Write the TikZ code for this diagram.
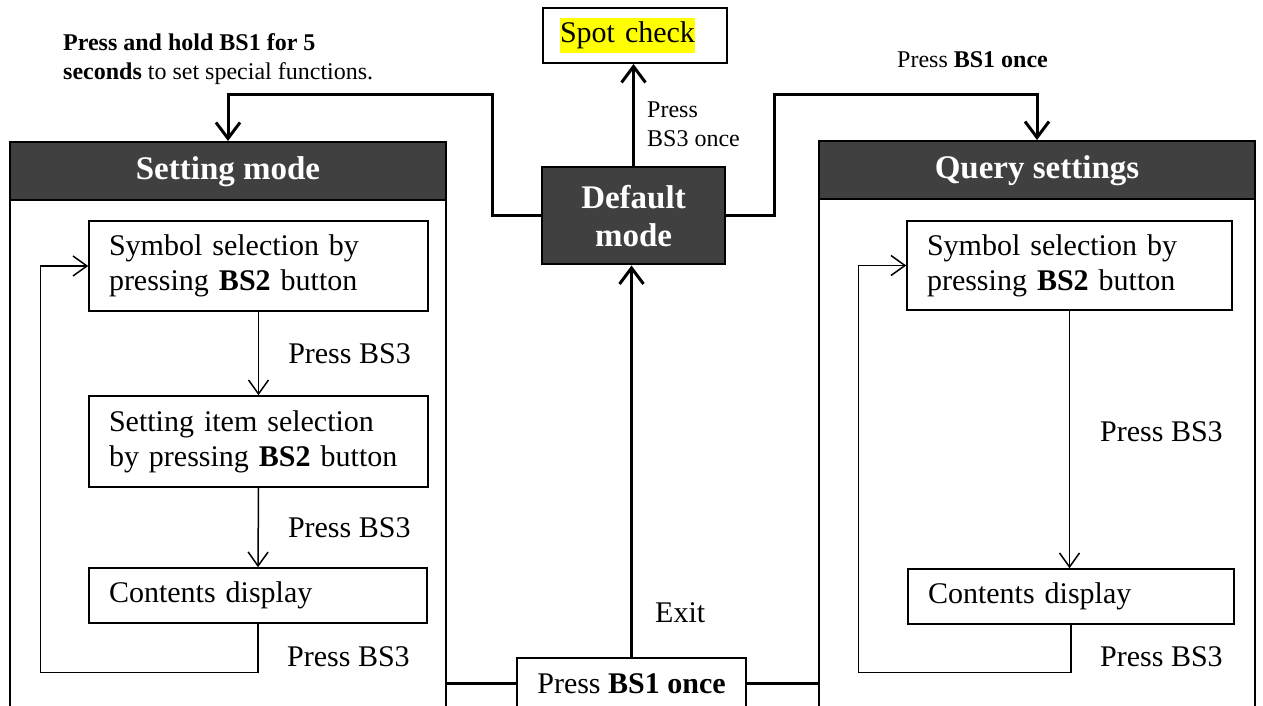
\documentclass[tikz,border=0pt]{standalone}
\usepackage{fontspec}
\setmainfont{Liberation Serif}
\definecolor{modeGray}{RGB}{64, 64, 64}
\definecolor{spotYellow}{RGB}{255, 255, 0}
\usetikzlibrary{arrows.meta, positioning, calc}

\begin{document}
\begin{tikzpicture}[x=1pt, y=1pt,
    every node/.style={font=\fontsize{30}{35}\selectfont},
    stepBox/.style={draw, line width=1.5pt, align=left, inner xsep=20pt, inner ysep=0pt},
    frameBox/.style={draw, line width=2pt, minimum width=436, minimum height=640, anchor=north},
    headBox/.style={draw, line width=2.5pt, fill=modeGray, text=white, minimum width=436, minimum height=58,
      anchor=north, font=\fontsize{33}{38}\selectfont\bfseries},
    smallText/.style={font=\fontsize{24}{29}\selectfont, align=left, inner sep=0pt},
    bigArrow/.style={line width=3pt, -{Straight Barb[length=16pt, width=24pt]}},
    thinArrow/.style={line width=1.5pt, -{Straight Barb[length=14pt, width=20pt]}},
    thickLine/.style={line width=3pt}]
        \useasboundingbox (0,0) rectangle (1263,706);
        \clip (0,0) rectangle (1263,706);

        % top row
        \node[draw, line width=2pt, minimum width=184, minimum height=55, text width=150, align=left,
          inner xsep=17pt] (spot) at (635,670.5) {{\fboxsep=0pt\colorbox{spotYellow}{\strut Spot check}}};
        \node[draw, line width=2pt, fill=modeGray, text=white, align=center, minimum width=183, minimum height=97,
          font=\fontsize{33}{38}\selectfont\bfseries] (default) at (633.5,490) {Default\\mode};

        \node[smallText, anchor=base west] (holdText) at (63,626) {\textbf{Press and hold BS1 for 5}\\\textbf{seconds} to set special functions.};
        \node[smallText, anchor=base west] (spotText) at (647,559) {Press\\BS3 once};
        \node[smallText, anchor=base west] (queryText) at (897,638) {Press \textbf{BS1 once}};

        % setting mode
        \node[frameBox] (setFrame) at (228,565) {};
        \node[headBox] (setHead) at (setFrame.north) {Setting mode};
        \node[stepBox, text width=299, minimum height=90] (sSym) at (258.5,440) {Symbol selection by\\pressing \textbf{BS2} button};
        \node[stepBox, text width=299, minimum height=91] (sItem) at (258.5,264.5) {Setting item selection\\by pressing \textbf{BS2} button};
        \node[stepBox, text width=298, minimum height=55] (sCont) at (258,110.5) {Contents display};

        \draw[thinArrow] (sSym.south) -- (sItem.north) node[pos=0.5, right=29pt, inner sep=0pt] (sLab1) {Press BS3};
        \draw[thinArrow] (sItem.south) -- (sCont.north) node[pos=0.5, right=29pt, inner sep=0pt] (sLab2) {Press BS3};
        \draw[line width=1.5pt] (sCont.south) -- ++(0,-49) -| ([xshift=-48pt]sSym.west);
        \draw[thinArrow] ([xshift=-48pt]sSym.west) -- (sSym.west);
        \node[anchor=base west, inner sep=0pt] (sLab3) at (287,39) {Press BS3};

        % query settings
        \node[frameBox] (qFrame) at (1037,566) {};
        \node[headBox] (qHead) at (qFrame.north) {Query settings};
        \node[stepBox, text width=285, minimum height=89] (qSym) at (1069.5,440.5) {Symbol selection by\\pressing \textbf{BS2} button};
        \node[stepBox, text width=286, minimum height=55] (qCont) at (1071,109.5) {Contents display};

        \draw[thinArrow] (qSym.south) -- (qSym.south |- qCont.north);
        \node[anchor=base west, inner sep=0pt] (qLab1) at (1100,264) {Press BS3};
        \draw[line width=1.5pt] (qCont.south) -- ++(0,-48) -| ([xshift=-48pt]qSym.west);
        \draw[thinArrow] ([xshift=-48pt]qSym.west) -- (qSym.west);
        \node[anchor=base west, inner sep=0pt] (qLab2) at (1100,39) {Press BS3};

        % exit box
        \node[draw, line width=2pt, anchor=north, minimum width=229, text height=21pt, text depth=30pt,
          inner ysep=15pt] (bs1) at (631.5,49) {Press \textbf{BS1 once}};
        \coordinate (bsL) at ([yshift=-27pt]bs1.north west);
        \coordinate (bsR) at ([yshift=-27pt]bs1.north east);

        % connectors
        \draw[bigArrow] (default.north) -- (default.north |- spot.south);
        \draw[bigArrow] (default.west) -- ++(-49,0) -- ++(0,121) -| (setHead.north);
        \draw[bigArrow] (default.east) -- ++(48,0) -- ++(0,121) -| (qHead.north);
        \draw[bigArrow] (bs1.north) -- (bs1.north |- default.south);
        \node[anchor=base west, inner sep=0pt] (exitText) at (655,83) {Exit};
        \draw[thickLine] (bsL) -- (bsL -| setFrame.east);
        \draw[thickLine] (bsR) -- (bsR -| qFrame.west);
      \end{tikzpicture}
\end{document}
